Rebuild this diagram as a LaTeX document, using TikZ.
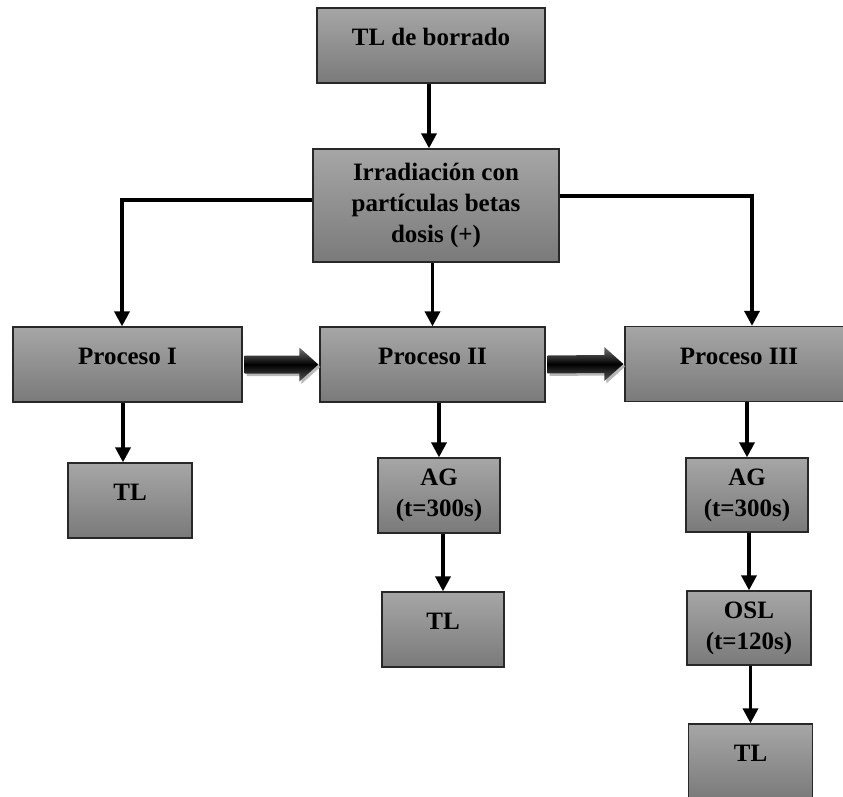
\documentclass[tikz,border=0pt]{standalone}
\usepackage{fontspec}
\setmainfont{Liberation Serif}
\usetikzlibrary{arrows.meta,calc,shadows}
\definecolor{boxtop}{RGB}{166,166,166}
\definecolor{boxbot}{RGB}{122,122,122}
\definecolor{boxline}{RGB}{40,40,40}
\begin{document}
\begin{tikzpicture}[x=1pt,y=-1pt,
  box/.style={draw=boxline,line width=1.3pt,top color=boxtop,bottom color=boxbot,
    inner sep=0pt,align=center,font=\fontsize{25}{31}\selectfont\bfseries},
  one/.style={text height=14pt,text depth=14pt},
  arr/.style={line width=3.5pt,-{Triangle[length=15pt,width=15pt]}},
  fat/.style={top color=black!55,bottom color=black!65,middle color=black,
    drop shadow={shadow xshift=2pt,shadow yshift=-2.5pt,fill=black!35,opacity=0.8}}]
\useasboundingbox (0,0) rectangle (843,797);
\clip (0,0) rectangle (843,797);
% boxes
\node[box,one,minimum width=228pt,minimum height=75pt] (b0) at (431,45.5) {TL de borrado};
\node[box,minimum width=246pt,minimum height=113pt] (b1) at (436,205.5) {Irradiación con\\partículas betas\\dosis (+)};
\node[box,one,minimum width=229pt,minimum height=75pt] (p1) at (127.5,364.5) {Proceso I};
\node[box,one,minimum width=225pt,minimum height=75pt] (p2) at (432.5,364.5) {Proceso II};
\node[box,one,minimum width=228pt,minimum height=75pt] (p3) at (739,364) {Proceso III};
\node[box,one,minimum width=124pt,minimum height=75pt] (t1) at (130,500.5) {TL};
\node[box,minimum width=122pt,minimum height=75pt] (a2) at (439,495.5) {AG\\(t=300s)};
\node[box,one,minimum width=122pt,minimum height=75pt] (t2) at (443,629.5) {TL};
\node[box,minimum width=122pt,minimum height=74pt] (a3) at (747,495) {AG\\(t=300s)};
\node[box,minimum width=124pt,minimum height=74pt] (o3) at (749,628) {OSL\\(t=120s)};
\node[box,one,minimum width=124pt,minimum height=75pt] (t3) at (750.5,761.5) {TL};
% thin arrows
\draw[arr] ([xshift=-2pt]b0.south) -- ([xshift=-2pt]b0.south |- b1.north);
\draw[arr] ([yshift=5.5pt]b1.west) -| ([xshift=-5.5pt]p1.north);
\draw[arr] ([yshift=9.5pt]b1.east) -| ([xshift=13pt]p3.north);
\draw[arr] (b1.south -| p2.north) -- (p2.north);
\draw[arr] ([xshift=-4.5pt]p1.south) -- ([xshift=-4.5pt]p1.south |- t1.north);
\draw[arr] (p2.south -| a2.north) -- (a2.north);
\draw[arr] (a2.south -| t2.north) -- (t2.north);
\draw[arr] (p3.south -| a3.north) -- (a3.north);
\draw[arr] (a3.south -| o3.north) -- (o3.north);
\draw[arr] (o3.south -| t3.north) -- (t3.north);
% fat arrows
\path[fat] ($(p1.east)+(2pt,9pt)$) -- ($(p2.west)+(-20pt,9pt)$) -- ($(p2.west)+(-20pt,17pt)$)
  -- ($(p2.west)+(-1pt,0pt)$) -- ($(p2.west)+(-20pt,-17pt)$) -- ($(p2.west)+(-20pt,-9pt)$)
  -- ($(p1.east)+(2pt,-9pt)$) -- cycle;
\path[fat] ($(p2.east)+(2pt,9pt)$) -- ($(p3.west)+(-20pt,9pt)$) -- ($(p3.west)+(-20pt,17pt)$)
  -- ($(p3.west)+(-1pt,0pt)$) -- ($(p3.west)+(-20pt,-17pt)$) -- ($(p3.west)+(-20pt,-9pt)$)
  -- ($(p2.east)+(2pt,-9pt)$) -- cycle;
\end{tikzpicture}
\end{document}
